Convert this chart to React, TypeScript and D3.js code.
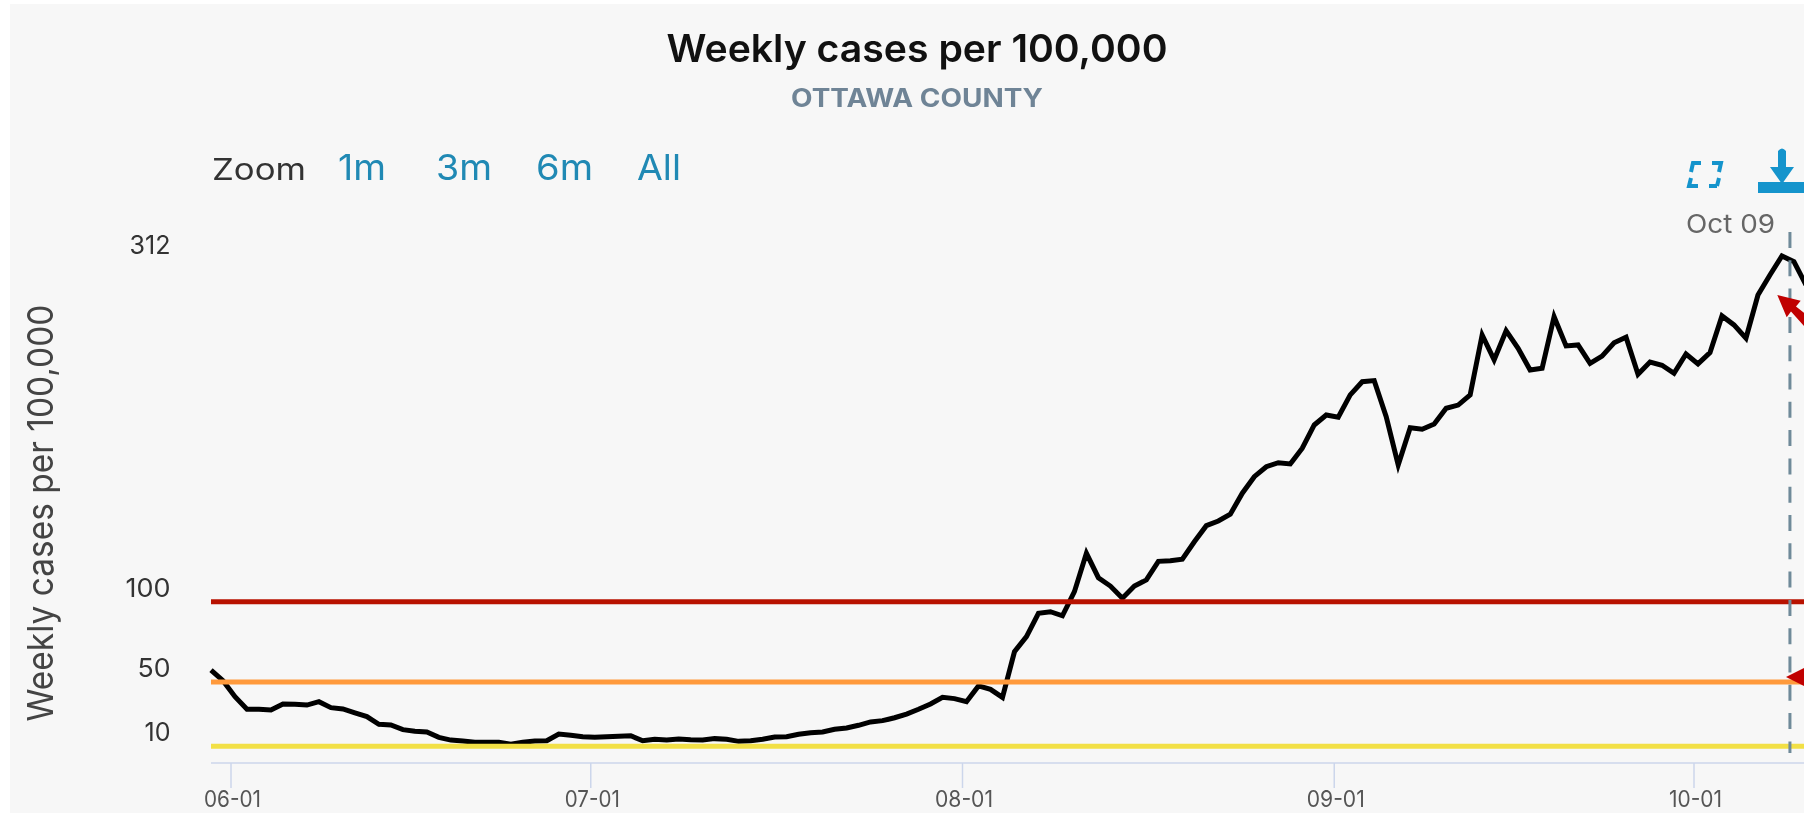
import React from "react";
import * as d3 from "d3";

const seriesStart = Date.UTC(2021, 4, 30, 8);
const weeklyCases = [
  57.5, 50.9, 40.9, 33.1, 33.1, 32.6, 36.4, 36.2, 35.7, 37.8, 34.1, 33.3, 30.9, 28.5, 23.7, 23.3, 20.4, 19.4, 18.9, 15.6,
  13.9, 13.3, 12.5, 12.5, 12.5, 11.3, 12.5, 13.3, 13.5, 17.7, 16.9, 16.0, 15.6, 16.0, 16.3, 16.6, 13.5, 14.4, 13.9, 14.6,
  14.1, 13.9, 14.8, 14.4, 13.1, 13.5, 14.4, 15.8, 16.0, 17.5, 18.5, 18.9, 20.6, 21.4, 23.1, 25.2, 26.0, 27.8, 30.1, 33.1,
  36.4, 40.5, 39.7, 37.8, 47.6, 45.5, 40.5, 68.9, 78.3, 92.8, 93.8, 91.3, 106.3, 130.2, 115.0, 109.8, 102.2, 109.8, 113.6, 125.2,
  125.6, 126.5, 137.4, 147.4, 150.3, 154.5, 167.6, 177.9, 184.1, 186.6, 185.8, 195.6, 210.1, 216.3, 214.9, 228.8, 237.0, 237.7, 215.3, 185.2,
  208.4, 207.4, 210.7, 220.5, 222.5, 228.8, 266.1, 250.6, 268.8, 257.8, 244.3, 245.4, 277.5, 259.3, 259.9, 248.5, 253.0, 261.3, 264.7, 241.7,
  249.3, 247.3, 242.3, 254.3, 248.1, 255.1, 278.0, 272.4, 264.1, 291.0, 303.5, 315.3, 311.8, 297.3,
];
const xTickDates = [Date.UTC(2021, 5, 1), Date.UTC(2021, 6, 1), Date.UTC(2021, 7, 1), Date.UTC(2021, 8, 1), Date.UTC(2021, 9, 1)];
const xTickLabels = ["06-01", "07-01", "08-01", "09-01", "10-01"];
const yTicks = [10, 50, 100, 312];
const thresholds = [100, 50, 10];
const thresholdColors = ["#b81200", "#ff9a3c", "#f2e046"];
const zoomButtons = ["1m", "3m", "6m", "All"];
const markerDate = Date.UTC(2021, 9, 9);

const FONT = "Inter, 'Noto Sans', sans-serif";

const x = d3.scaleUtc().domain([xTickDates[0], xTickDates[4]]).range([231, 1694]);
const y = d3.scaleLinear().domain([0, 312]).range([762.4, 261.3]);

const points: [number, number][] = weeklyCases.map((v, i) => [
  x(d3.utcDay.offset(new Date(seriesStart), i)),
  y(v),
]);
const linePath = d3.line()(points) as string;

function Stretch(props: any) {
  const { x: tx, y: ty, w, size, fill, weight = 400, anchor = "start", children, transform } = props;
  return (
    <text
      x={tx}
      y={ty}
      fontFamily={FONT}
      fontSize={size}
      fontWeight={weight}
      fill={fill}
      textAnchor={anchor}
      textLength={w}
      lengthAdjust="spacingAndGlyphs"
      transform={transform}
    >
      {children}
    </text>
  );
}

const zoomX = [338, 436, 536, 637];
const zoomW = [48, 56, 57, 44];
const yLabelW: Record<number, number> = { 10: 26, 50: 33, 100: 45, 312: 41 };
const yLabelDy: Record<number, number> = { 10: -5, 50: -5, 100: -5, 312: -7 };
const xLabelW = [57, 55, 58, 58, 53];

export default function App() {
  const xEnd = 1804;
  const axisY = 763;
  return (
    <svg
      width={1804}
      height={813}
      style={{ position: "absolute", left: 0, top: 0, display: "block", background: "#ffffff" }}
    >
      <rect x={10} y={4} width={1794} height={809} fill="#f7f7f7" />

      <g style={{ filter: "blur(0.5px)" }}>
        <Stretch x={917} y={62} w={501} size={38} weight={600} fill="#111111" anchor="middle">
          Weekly cases per 100,000
        </Stretch>
        <Stretch x={917} y={107} w={252} size={25} weight={700} fill="#6f8496" anchor="middle">
          OTTAWA COUNTY
        </Stretch>

        <Stretch x={212} y={180} w={94} size={30} fill="#333333">
          Zoom
        </Stretch>
        {zoomButtons.map((b, i) => (
          <Stretch key={b} x={zoomX[i]} y={180} w={zoomW[i]} size={36} fill="#2089b4">
            {b}
          </Stretch>
        ))}

        {/* export icons */}
        <g fill="none" stroke="#1594cc" strokeWidth={4}>
          <path d="M1691 172 L1693 163 L1701 163" />
          <path d="M1712 163 L1721 163 L1719 172" />
          <path d="M1717 186 L1709 186" />
          <path d="M1719 178 L1717 186" />
          <path d="M1691 178 L1689 186 L1698 186" />
        </g>
        <g fill="#1594cc">
          <path d="M1778 151 Q1782 146 1786 151 L1786 167 L1794 167 L1782 184 L1770 167 L1778 167 Z" />
          <path d="M1758 193 L1758 182 L1804 182 L1804 193 Z" />
        </g>

        {/* y axis */}
        <Stretch
          x={0}
          y={0}
          w={417}
          size={36}
          fill="#444444"
          anchor="middle"
          transform="translate(53,513) rotate(-90)"
        >
          Weekly cases per 100,000
        </Stretch>
        {yTicks.map((t) => (
          <Stretch key={t} x={170.5} y={y(t) + yLabelDy[t]} w={yLabelW[t]} size={26} fill="#333333" anchor="end">
            {t}
          </Stretch>
        ))}

        {/* x axis */}
        <line x1={211} x2={xEnd} y1={axisY} y2={axisY} stroke="#ccd6eb" strokeWidth={1.5} />
        {xTickDates.map((d, i) => (
          <g key={xTickLabels[i]}>
            <line x1={x(d)} x2={x(d)} y1={axisY} y2={788} stroke="#ccd6eb" strokeWidth={1.5} />
            <Stretch x={x(d) + 1.5} y={807} w={xLabelW[i]} size={23} fill="#555555" anchor="middle">
              {xTickLabels[i]}
            </Stretch>
          </g>
        ))}

        {/* series */}
        <path d={linePath} fill="none" stroke="#000000" strokeWidth={5} strokeLinejoin="miter" strokeMiterlimit={6} />

        {/* thresholds */}
        {thresholds.map((t, i) => (
          <line key={t} x1={211} x2={xEnd} y1={y(t)} y2={y(t)} stroke={thresholdColors[i]} strokeWidth={5} />
        ))}

        {/* marker */}
        <line
          x1={x(markerDate)}
          x2={x(markerDate)}
          y1={232}
          y2={753}
          stroke="#6f8a99"
          strokeWidth={3}
          strokeDasharray="16 12.3"
        />
        <Stretch x={1686} y={233} w={89} size={26} fill="#666666">
          Oct 09
        </Stretch>

        {/* annotation arrows */}
        <g fill="#c00000">
          <path d="M1777.3 295 L1800.7 300.7 L1796 306.5 L1808 316 L1804 326 L1791 311.5 L1786.7 317.3 Z" />
          <path d="M1786 677 L1804 668 L1804 686 Z" />
        </g>
      </g>
    </svg>
  );
}
